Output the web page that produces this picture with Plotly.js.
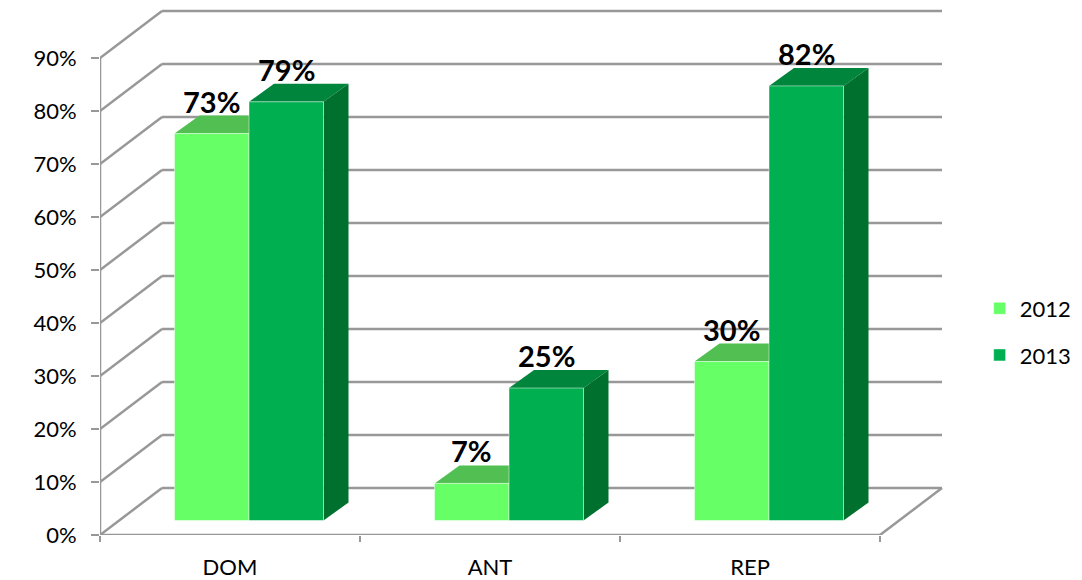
<!DOCTYPE html>
<html>
<head>
<meta charset="utf-8">
<script src="https://cdn.plot.ly/plotly-3.0.1.min.js"></script>
<style>html,body{margin:0;padding:0;background:#fff;}#chart{width:1082px;height:580px;}</style>
</head>
<body>
<div id="chart"></div>
<script>
// ---- data ----
const categories = ['DOM', 'ANT', 'REP'];
const seriesNames = ['2012', '2013'];
const values2012 = [73, 7, 30];
const values2013 = [79, 25, 82];
const yTickVals = [0, 10, 20, 30, 40, 50, 60, 70, 80, 90];
const yTickText = ['0%', '10%', '20%', '30%', '40%', '50%', '60%', '70%', '80%', '90%'];

// ---- style / geometry (pseudo-3D projection) ----
const PX_CAT = 260, PX_PCT = 5.3;
const wallDx = 62 / PX_CAT, wallDy = 47 / PX_PCT;      // depth of the whole box
const barDx = 19 / PX_CAT, barDy = 14.5 / PX_PCT;      // bar front plane offset
const depDx = 25 / PX_CAT, depDy = 18 / PX_PCT;        // bar depth
const bw = 74.5 / PX_CAT;                               // bar width
const gridColor = '#989898', gridW = 2.5;
const colors = {
  '2012': {front: '#66FF66', top: '#52BF52', side: '#44A844'},
  '2013': {front: '#00B050', top: '#00853C', side: '#00702F'}
};
const FONT = 'Lato, "Liberation Sans", sans-serif';

const seriesList = [
  {name: seriesNames[0], values: values2012, offset: -bw + barDx},
  {name: seriesNames[1], values: values2013, offset: barDx}
];
const xIdx = categories.map((c, i) => i);
const xMin = -0.5, xMax = categories.length - 0.5;

const shapes = [];
function line(x0, y0, x1, y1) {
  shapes.push({type: 'line', xref: 'x', yref: 'y', x0, y0, x1, y1, layer: 'below',
    line: {color: gridColor, width: gridW}});
}
function poly(pts, color) {
  const p = 'M ' + pts.map(q => q[0] + ',' + q[1]).join(' L ') + ' Z';
  shapes.push({type: 'path', xref: 'x', yref: 'y', path: p, layer: 'below',
    fillcolor: color, line: {width: 0}});
}
// back wall gridlines and left-wall diagonals
yTickVals.forEach(v => {
  line(xMin + wallDx, v + wallDy, xMax + wallDx, v + wallDy);
  line(xMin, v, xMin + wallDx, v + wallDy);
});
// floor front edge, right edge, left vertical axis
line(xMin, 0, xMax, 0);
line(xMax, 0, xMax + wallDx, wallDy);
line(xMin, 0, xMin, yTickVals[yTickVals.length - 1]);

// top and side faces
const annotations = [];
seriesList.forEach((s, si) => {
  s.values.forEach((v, i) => {
    const x0 = i + s.offset, x1 = x0 + bw;
    const top = v + barDy, base = barDy;
    poly([[x0, top], [x1, top], [x1 + depDx, top + depDy], [x0 + depDx, top + depDy]], colors[s.name].top);
    if (si === seriesList.length - 1) {
      poly([[x1, base], [x1, top], [x1 + depDx, top + depDy], [x1 + depDx, base + depDy]], colors[s.name].side);
    }
    annotations.push({x: (x0 + x1) / 2, y: top + depDy, xref: 'x', yref: 'y', text: v + '%',
      showarrow: false, yanchor: 'bottom', xanchor: 'center', yshift: -5,
      font: {family: FONT, size: 29, color: '#000', weight: 'bold'}});
  });
});

const traces = seriesList.map(s => ({
  type: 'bar', name: s.name, x: xIdx, y: s.values,
  base: s.values.map(() => barDy), width: bw, offset: s.offset,
  marker: {color: colors[s.name].front, line: {width: 0.8, color: 'rgba(255,255,255,0.6)'}},
  legendgroup: s.name, hoverinfo: 'skip'
}));

const layout = {
  width: 1082, height: 580,
  margin: {l: 100, r: 137, t: 5, b: 45},
  paper_bgcolor: '#fff', plot_bgcolor: 'rgba(0,0,0,0)',
  barmode: 'overlay',
  font: {family: FONT, color: '#000'},
  xaxis: {range: [xMin, xMin + 845 / PX_CAT], tickmode: 'array', tickvals: xIdx, ticktext: categories,
    ticks: '', showgrid: false, zeroline: false, showline: false, fixedrange: true,
    tickfont: {family: FONT, size: 22, color: '#000'}, ticklabelstandoff: 17,
    minor: {tickmode: 'array', tickvals: [-0.5, 0.5, 1.5, 2.5], ticks: 'outside', ticklen: 6,
      tickwidth: 2, tickcolor: gridColor, showgrid: false}},
  yaxis: {range: [0, 100], tickmode: 'array', tickvals: yTickVals, ticktext: yTickText,
    ticks: 'outside', ticklen: 8, tickwidth: 2, tickcolor: gridColor,
    showgrid: false, zeroline: false, showline: false, fixedrange: true,
    tickfont: {family: FONT, size: 22, color: '#000'}, ticklabelstandoff: 10},
  showlegend: true,
  legend: {x: 1.041, xanchor: 'left', y: 0.383, yanchor: 'middle', traceorder: 'grouped',
    tracegroupgap: 15, font: {family: FONT, size: 22, color: '#000'}, bgcolor: 'rgba(0,0,0,0)'},
  shapes, annotations
};

Plotly.newPlot('chart', traces, layout, {displayModeBar: false, staticPlot: true});
</script>
</body>
</html>
